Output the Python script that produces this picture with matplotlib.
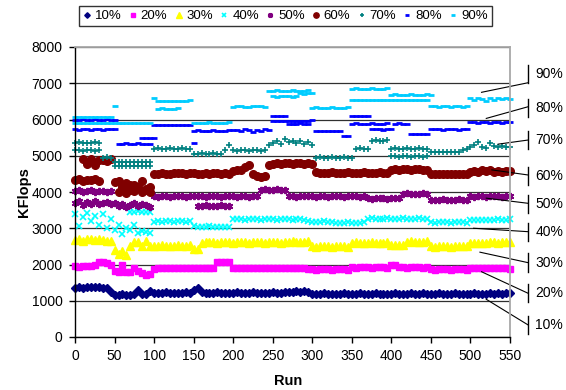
import numpy as np
import matplotlib
matplotlib.use("Agg")
import matplotlib.pyplot as plt

plt.rcParams['font.family'] = ['Liberation Sans', 'DejaVu Sans']

# -----------------------------
# Runs (sampled every 5 runs) and series labels
# -----------------------------
runs = np.arange(0, 551, 5)
labels = ['10%', '20%', '30%', '40%', '50%', '60%', '70%', '80%', '90%']

# -----------------------------
# KFlops per series (one value per sampled run)
# -----------------------------
kf10 = [1350, 1370, 1360, 1385, 1390, 1370, 1380, 1360, 1350, 1240,
        1170, 1150, 1180, 1160, 1170, 1180, 1310, 1180, 1200, 1280,
        1220, 1210, 1220, 1230, 1210, 1220, 1220, 1210, 1230, 1220,
        1300, 1340, 1230, 1220, 1210, 1220, 1230, 1220, 1210, 1220,
        1220, 1230, 1220, 1210, 1220, 1230, 1220, 1210, 1220, 1220,
        1230, 1220, 1210, 1230, 1240, 1250, 1260, 1250, 1260, 1240,
        1200, 1190, 1200, 1210, 1190, 1200, 1200, 1190, 1210, 1200,
        1190, 1200, 1210, 1200, 1190, 1200, 1210, 1200, 1190, 1200,
        1200, 1210, 1190, 1200, 1200, 1210, 1190, 1200, 1210, 1200,
        1190, 1200, 1210, 1200, 1190, 1200, 1210, 1200, 1190, 1200,
        1200, 1210, 1200, 1190, 1200, 1210, 1200, 1210, 1200, 1210,
        1210]

kf20 = [1960, 1940, 1970, 1950, 1960, 1980, 2060, 2070, 2050, 1980,
        1820, 1790, 1990, 1800, 1780, 1900, 1820, 1760, 1710, 1740,
        1880, 1900, 1890, 1900, 1910, 1890, 1900, 1890, 1900, 1910,
        1900, 1890, 1900, 1910, 1890, 1900, 2070, 2080, 2080, 2060,
        1910, 1900, 1890, 1900, 1910, 1900, 1890, 1900, 1910, 1900,
        1890, 1900, 1910, 1900, 1890, 1900, 1910, 1900, 1890, 1880,
        1870, 1860, 1870, 1880, 1870, 1860, 1870, 1880, 1870, 1860,
        1920, 1910, 1920, 1930, 1920, 1910, 1920, 1930, 1920, 1910,
        1990, 1980, 1930, 1920, 1910, 1920, 1930, 1920, 1910, 1920,
        1870, 1860, 1870, 1880, 1870, 1860, 1870, 1880, 1870, 1860,
        1900, 1910, 1900, 1890, 1900, 1910, 1900, 1890, 1900, 1910,
        1880]

kf30 = [2680, 2700, 2660, 2690, 2710, 2670, 2690, 2680, 2660, 2650,
        2400, 2300, 2380, 2250, 2520, 2620, 2630, 2520, 2640, 2520,
        2520, 2510, 2530, 2520, 2510, 2520, 2530, 2510, 2520, 2530,
        2430, 2420, 2600, 2610, 2620, 2610, 2600, 2610, 2620, 2610,
        2600, 2610, 2620, 2610, 2600, 2610, 2620, 2610, 2600, 2610,
        2620, 2610, 2600, 2610, 2630, 2640, 2630, 2620, 2630, 2640,
        2500, 2490, 2500, 2510, 2500, 2490, 2500, 2510, 2500, 2490,
        2600, 2610, 2600, 2590, 2600, 2610, 2600, 2590, 2600, 2610,
        2530, 2540, 2530, 2530, 2630, 2640, 2630, 2620, 2630, 2640,
        2500, 2490, 2500, 2510, 2500, 2490, 2500, 2510, 2500, 2520,
        2580, 2590, 2600, 2590, 2600, 2620, 2610, 2600, 2620, 2630,
        2620]

kf40 = [3380, 3050, 3300, 3420, 3200, 3350, 3100, 3400, 3000, 3250,
        2950, 3100, 2850, 3000, 2950, 3100, 2880, 2920, 2900, 2880,
        3180, 3190, 3180, 3200, 3190, 3180, 3200, 3190, 3180, 3190,
        3050, 3040, 3030, 3040, 3050, 3030, 3040, 3030, 3040, 3030,
        3250, 3260, 3250, 3240, 3250, 3260, 3250, 3240, 3250, 3260,
        3250, 3240, 3250, 3260, 3250, 3240, 3250, 3260, 3230, 3200,
        3180, 3170, 3180, 3190, 3180, 3170, 3150, 3140, 3150, 3160,
        3150, 3140, 3150, 3160, 3260, 3270, 3260, 3250, 3260, 3270,
        3260, 3250, 3260, 3270, 3260, 3250, 3260, 3270, 3260, 3250,
        3160, 3150, 3160, 3170, 3160, 3150, 3160, 3170, 3160, 3150,
        3230, 3220, 3230, 3240, 3230, 3220, 3240, 3250, 3230, 3240,
        3260]

kf50 = [4020, 4050, 3990, 4030, 4060, 4000, 4040, 4020, 3990, 4030,
        3700, 3620, 3680, 3600, 3650, 3700, 3620, 3680, 3650, 3600,
        3880, 3870, 3890, 3880, 3870, 3880, 3890, 3880, 3870, 3880,
        3880, 3890, 3880, 3870, 3880, 3890, 3880, 3870, 3880, 3890,
        3880, 3870, 3890, 3880, 3870, 3880, 3900, 4060, 4070, 4050,
        4060, 4070, 4050, 4060, 3890, 3880, 3870, 3880, 3890, 3880,
        3880, 3870, 3890, 3880, 3870, 3880, 3890, 3880, 3870, 3880,
        3890, 3880, 3870, 3880, 3830, 3820, 3830, 3840, 3830, 3820,
        3830, 3840, 3830, 3950, 3960, 3950, 3940, 3950, 3960, 3950,
        3790, 3780, 3790, 3800, 3790, 3780, 3790, 3800, 3790, 3780,
        3880, 3870, 3890, 3880, 3870, 3880, 3890, 3880, 3870, 3880,
        3890]

kf60 = [4330, 4350, 4300, 4340, 4320, 4350, 4300, 4880, 4850, 4900,
        4280, 4300, 4150, 4250, 4050, 4200, 4100, 4300, 4050, 4150,
        4500, 4510, 4520, 4510, 4500, 4520, 4530, 4520, 4510, 4520,
        4520, 4510, 4500, 4520, 4510, 4520, 4530, 4510, 4520, 4510,
        4580, 4600, 4620, 4700, 4750, 4500, 4440, 4420, 4450, 4750,
        4780, 4790, 4780, 4800, 4790, 4780, 4800, 4790, 4780, 4800,
        4780, 4540, 4530, 4520, 4530, 4540, 4530, 4520, 4530, 4540,
        4530, 4520, 4530, 4540, 4530, 4520, 4530, 4540, 4530, 4520,
        4620, 4630, 4620, 4640, 4630, 4620, 4640, 4630, 4620, 4600,
        4500, 4490, 4500, 4510, 4500, 4490, 4500, 4510, 4500, 4490,
        4560, 4580, 4550, 4600, 4570, 4620, 4560, 4580, 4540, 4570,
        4580]

kf70 = [5350, 5370, 5340, 5360, 5350, 5370, 5340, 4950, 4960, 4940,
        4830, 4820, 4840, 4830, 4820, 4840, 4830, 4820, 4840, 4830,
        5200, 5210, 5190, 5200, 5210, 5190, 5200, 5210, 5190, 5200,
        5060, 5050, 5070, 5060, 5050, 5070, 5060, 5050, 5150, 5290,
        5150, 5140, 5160, 5150, 5140, 5160, 5150, 5140, 5160, 5300,
        5350, 5400, 5330, 5450, 5380, 5420, 5350, 5400, 5330, 5380,
        5300, 4950, 4960, 4940, 4950, 4960, 4940, 4950, 4960, 4940,
        4950, 5200, 5210, 5190, 5200, 5420, 5430, 5410, 5420, 5430,
        5200, 5210, 5190, 5200, 5210, 5190, 5200, 5210, 5190, 5200,
        5100, 5090, 5100, 5110, 5100, 5090, 5100, 5110, 5150, 5200,
        5250, 5300, 5380, 5250, 5220, 5350, 5280, 5230, 5260, 5250,
        5230]

kf80 = [6000, 5990, 6010, 6000, 5990, 6010, 6000, 5990, 6010, 6000,
        6000, 5330, 5330, 5340, 5320, 5330, 5340, 5330, 5320, 5330,
        5850, 5860, 5850, 5840, 5850, 5860, 5850, 5840, 5850, 5860,
        5690, 5700, 5690, 5680, 5690, 5700, 5690, 5680, 5690, 5700,
        5700, 5720, 5680, 5750, 5700, 5660, 5720, 5690, 5740, 5700,
        6100, 6110, 6100, 6100, 5880, 5870, 5880, 5890, 5880, 5870,
        6000, 5680, 5690, 5680, 5670, 5680, 5690, 5680, 5540, 5550,
        6100, 6110, 6100, 6090, 6100, 5730, 5740, 5730, 5720, 5730,
        5730, 5880, 5890, 5880, 5870, 5600, 5610, 5600, 5590, 5600,
        5730, 5740, 5730, 5720, 5730, 5740, 5730, 5720, 5730, 5740,
        5920, 5930, 5910, 5920, 5930, 5910, 5920, 5930, 5910, 5920,
        5920]

kf90 = [5900, 5910, 5900, 5890, 5900, 5910, 5900, 5890, 5900, 5910,
        5900, 5910, 5900, 5890, 5900, 5910, 5900, 5890, 5900, 5910,
        6600, 6510, 6520, 6510, 6500, 6510, 6520, 6510, 6500, 6550,
        5900, 5890, 5900, 5910, 5920, 5900, 5890, 5900, 5910, 5920,
        6350, 6360, 6370, 6350, 6340, 6360, 6370, 6380, 6350, 6800,
        6800, 6810, 6800, 6790, 6800, 6810, 6800, 6790, 6800, 6810,
        6330, 6340, 6330, 6320, 6330, 6340, 6330, 6320, 6330, 6340,
        6540, 6550, 6540, 6530, 6540, 6550, 6540, 6530, 6540, 6550,
        6540, 6550, 6540, 6530, 6540, 6550, 6540, 6530, 6540, 6550,
        6360, 6370, 6350, 6360, 6370, 6350, 6360, 6370, 6350, 6360,
        6580, 6550, 6600, 6560, 6520, 6600, 6540, 6580, 6560, 6600,
        6560]

# second level recorded for some run ranges
kf40_b_runs = [70, 75, 80, 85, 90, 95]
kf40_b = [3460, 3440, 3470, 3450, 3460, 3440]

kf50_b_runs = [0, 5, 10, 15, 20, 25, 30, 35, 40, 45,
               155, 160, 165, 170, 175, 180, 185, 190, 195]
kf50_b = [3700, 3750, 3650, 3720, 3680, 3740, 3660, 3700, 3720, 3680,
          3620, 3610, 3630, 3620, 3610, 3620, 3630, 3620, 3610]

kf60_b_runs = [10, 15, 20, 25, 30, 55, 60, 65, 70, 75, 80, 85, 90, 95]
kf60_b = [4920, 4760, 4900, 4740, 4880, 4000, 4100, 3980, 4200, 4020,
          4150, 4000, 4080, 3990]

kf70_b_runs = [0, 5, 10, 15, 20, 25, 30,
               50, 55, 60, 65, 70, 75, 80, 85, 90, 95,
               400, 405, 410, 415, 420, 425, 430, 435, 440, 445]
kf70_b = [5150, 5160, 5140, 5150, 5160, 5140, 5150,
          4720, 4730, 4710, 4720, 4730, 4710, 4720, 4730, 4710, 4720,
          4980, 4990, 4970, 4980, 4990, 4970, 4980, 4990, 4970, 4980]

kf80_b_runs = [0, 5, 10, 15, 20, 25, 30, 35, 40, 45, 50,
               85, 90, 95, 100, 150,
               250, 255, 260, 265, 270, 275, 280, 285, 290, 295,
               350, 355, 360, 365, 370, 375, 380, 385, 390, 395]
kf80_b = [5730, 5720, 5740, 5730, 5720, 5740, 5730, 5720, 5740, 5730, 5730,
          5490, 5500, 5490, 5480, 5350,
          5960, 5970, 5960, 5950, 5960, 5970, 5960, 5950, 5960, 5970,
          5880, 5890, 5880, 5870, 5880, 5890, 5880, 5870, 5880, 5890]

kf90_b_runs = [0, 5, 10, 15, 20, 25, 30, 35, 40, 45, 50,
               105, 110, 115, 120, 125, 130,
               250, 255, 260, 265, 270, 275, 280, 285, 290, 295, 300,
               350, 355, 360, 365, 370, 375, 380, 385, 390, 395,
               400, 405, 410, 415, 420, 425, 430, 435, 440, 445, 450]
kf90_b = [6070, 6080, 6070, 6060, 6070, 6080, 6070, 6060, 6070, 6080, 6380,
          6300, 6310, 6300, 6290, 6300, 6310,
          6640, 6630, 6640, 6650, 6640, 6630, 6640, 6720, 6710, 6720, 6730,
          6850, 6860, 6850, 6840, 6850, 6860, 6850, 6840, 6850, 6860,
          6680, 6690, 6680, 6670, 6680, 6690, 6680, 6670, 6680, 6690, 6680]

# -----------------------------
# Marker styles (Excel-like)
# -----------------------------
colors = ['#000080', '#FF00FF', '#FFFF00', '#00FFFF', '#800080',
          '#800000', '#008080', '#0000FF', '#00CCFF']
markers = ['D', 's', '^', 'x', (6, 2, 0), 'o', '+', '_', '_']
sizes = [4.0, 5.0, 5.5, 4.2, 5.2, 5.5, 4.8, 5.0, 5.0]
widths = [1.0, 1.0, 1.0, 1.2, 1.4, 1.0, 1.2, 2.0, 2.0]

main_vals = [kf10, kf20, kf30, kf40, kf50, kf60, kf70, kf80, kf90]
extra = {3: (kf40_b_runs, kf40_b), 4: (kf50_b_runs, kf50_b),
         5: (kf60_b_runs, kf60_b), 6: (kf70_b_runs, kf70_b),
         7: (kf80_b_runs, kf80_b), 8: (kf90_b_runs, kf90_b)}

# callouts: leader anchor (run, KFlops), label centre and leader end height
anchor_runs = [520, 514, 512, 504, 520, 527, 535, 520, 514]
anchor_kf = [1040, 1800, 2340, 3000, 3830, 4610, 5320, 6030, 6750]
label_kf = [331, 1204, 2055, 2906, 3665, 4445, 5434, 6309, 7250]
leader_end = [331, 1205, 2050, 2905, 3688, 4469, 5434, 6353, 7015]

fig = plt.figure(figsize=(5.66, 3.9), dpi=100)
ax = fig.add_axes([75 / 566, 53 / 390, 435 / 566, 290 / 390])

for i, lab in enumerate(labels):
    style = dict(linestyle='none', marker=markers[i], ms=sizes[i],
                 mew=widths[i], color=colors[i], mec=colors[i],
                 clip_on=False)
    ax.plot(runs, main_vals[i], label=lab, **style)
    if i in extra:
        ax.plot(extra[i][0], extra[i][1], **style)

ax.set_xlim(0, 550)
ax.set_ylim(0, 8000)
ax.set_xticks(np.arange(0, 551, 50))
ax.set_yticks(np.arange(0, 8001, 1000))
ax.tick_params(direction='out', length=4, width=1, labelsize=10,
               top=False, right=False, pad=5)

ax.yaxis.grid(True, color='#303030', linewidth=0.9)
ax.set_axisbelow(True)
for s in ['left', 'bottom']:
    ax.spines[s].set_color('black')
    ax.spines[s].set_linewidth(1)
for s in ['top', 'right']:
    ax.spines[s].set_color('#A8A8A8')
    ax.spines[s].set_linewidth(1.3)

ax.set_xlabel('Run', fontsize=10.5, fontweight='bold')
ax.set_ylabel('KFlops', fontsize=10.5, fontweight='bold')
ax.xaxis.set_label_coords(0.49, -0.128)
ax.yaxis.set_label_coords(-0.10, 0.5)

# leader lines, bars and series names on the right
bar_x = 573
for i, lab in enumerate(labels):
    ax.plot([anchor_runs[i], bar_x], [anchor_kf[i], leader_end[i]],
            color='black', lw=0.8, clip_on=False)
    ax.plot([bar_x, bar_x], [label_kf[i] - 250, label_kf[i] + 250],
            color='black', lw=1, clip_on=False)
    ax.text(bar_x + 9, label_kf[i], lab, fontsize=10, va='center',
            ha='left', clip_on=False)

leg = fig.legend(loc='upper left', bbox_to_anchor=(79 / 566, 1 - 6 / 390),
                 ncol=9, fontsize=9.5, frameon=True, fancybox=False,
                 edgecolor='black', handlelength=0.6, handletextpad=0.3,
                 columnspacing=0.55, borderpad=0.3, markerscale=0.7,
                 borderaxespad=0)
leg.get_frame().set_linewidth(1)

fig.savefig('out.png', dpi=100)
